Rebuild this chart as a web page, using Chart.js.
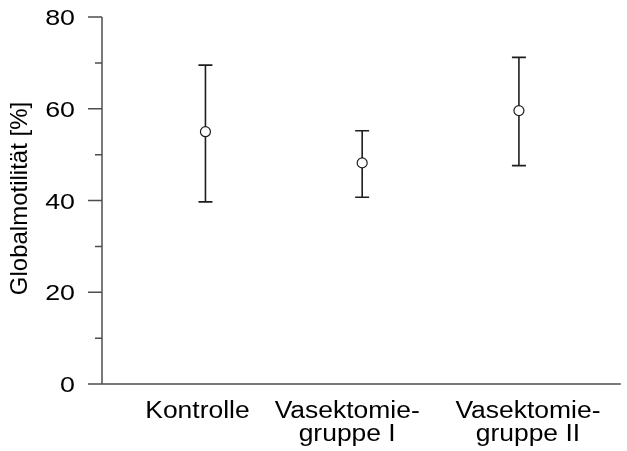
<!DOCTYPE html>
<html>
<head>
<meta charset="utf-8">
<script src="https://cdn.jsdelivr.net/npm/chart.js@4/dist/chart.umd.min.js"></script>
<style>html,body{margin:0;padding:0;background:#fff;overflow:hidden}</style>
</head>
<body>
<canvas id="c" width="627" height="451"></canvas>
<script>
// Group names (one entry per line of the axis label)
const groups = [["Kontrolle"], ["Vasektomie-", "gruppe I"], ["Vasektomie-", "gruppe II"]];
// Mean global motility and the ends of the spread bars, in %
const means = [55.0, 48.2, 59.6];
const upper = [69.5, 55.2, 71.2];
const lower = [39.7, 40.7, 47.6];
// Value axis
const yTicks = [0, 20, 40, 60, 80];
const yMinorTicks = [10, 30, 50, 70];
const yTitle = "Globalmotilität [%]";

const FONT = '"Liberation Sans", Arial, Helvetica, sans-serif';
const INK = '#1e1e1e';
const AXIS = '#4d4d4d';

function wideText(ctx, text, x, y, align, size, sx) {
  ctx.save();
  ctx.font = size + 'px ' + FONT;
  ctx.fillStyle = '#000';
  ctx.textAlign = align;
  ctx.textBaseline = 'alphabetic';
  ctx.translate(x, y);
  ctx.scale(sx, 1);
  ctx.fillText(text, 0, 0);
  ctx.restore();
}

// Axes, ticks, labels and spread bars drawn from the chart's own scales
const frame = {
  id: 'frame',
  beforeDatasetsDraw(chart) {
    const ctx = chart.ctx;
    const xs = chart.scales.x, ys = chart.scales.y;
    const a = chart.chartArea;
    const left = a.left, bottom = ys.getPixelForValue(0);
    const top = ys.getPixelForValue(yTicks[yTicks.length - 1]);

    ctx.save();
    ctx.strokeStyle = AXIS;
    ctx.lineWidth = 1.5;
    ctx.beginPath();
    ctx.moveTo(left, top);
    ctx.lineTo(left, bottom);
    ctx.lineTo(a.right, bottom);
    yTicks.forEach(v => {
      const y = ys.getPixelForValue(v);
      ctx.moveTo(left - 14, y); ctx.lineTo(left, y);
    });
    yMinorTicks.forEach(v => {
      const y = ys.getPixelForValue(v);
      ctx.moveTo(left - 7, y); ctx.lineTo(left, y);
    });
    ctx.stroke();

    yTicks.forEach(v => {
      wideText(ctx, String(v), left - 27, ys.getPixelForValue(v) + 8, 'right', 22, 1.22);
    });

    // group labels
    const shift = [-8, -15, 9];
    groups.forEach((lines, i) => {
      const cx = xs.getPixelForValue(i + 1) + shift[i];
      lines.forEach((t, k) => {
        wideText(ctx, t, cx, bottom + 34 + k * 23, 'center', 23, 1.15);
      });
    });

    // axis title
    ctx.save();
    ctx.font = '24px ' + FONT;
    ctx.fillStyle = '#000';
    ctx.textAlign = 'center';
    ctx.textBaseline = 'alphabetic';
    ctx.translate(27, (top + bottom) / 2 - 2);
    ctx.rotate(-Math.PI / 2);
    ctx.fillText(yTitle, 0, 0);
    ctx.restore();

    // spread bars
    ctx.strokeStyle = INK;
    ctx.lineWidth = 1.6;
    ctx.beginPath();
    means.forEach((m, i) => {
      const x = xs.getPixelForValue(i + 1);
      const yt = ys.getPixelForValue(upper[i]);
      const yb = ys.getPixelForValue(lower[i]);
      ctx.moveTo(x, yt); ctx.lineTo(x, yb);
      ctx.moveTo(x - 7, yt); ctx.lineTo(x + 7, yt);
      ctx.moveTo(x - 7, yb); ctx.lineTo(x + 7, yb);
    });
    ctx.stroke();
    ctx.restore();
  }
};

new Chart(document.getElementById('c'), {
  type: 'scatter',
  data: {
    datasets: [{
      data: means.map((m, i) => ({ x: i + 1, y: m })),
      pointRadius: 5,
      pointBackgroundColor: '#ffffff',
      pointBorderColor: INK,
      pointBorderWidth: 1.2,
      showLine: false
    }]
  },
  options: {
    responsive: false,
    devicePixelRatio: 1,
    animation: false,
    layout: { padding: { left: 102, top: 17, right: 0, bottom: 67 } },
    plugins: { legend: { display: false }, tooltip: { enabled: false } },
    scales: {
      x: { type: 'linear', min: 0.34, max: 3.65, display: false },
      y: { type: 'linear', min: 0, max: 80, display: false }
    }
  },
  plugins: [frame]
});
</script>
</body>
</html>
